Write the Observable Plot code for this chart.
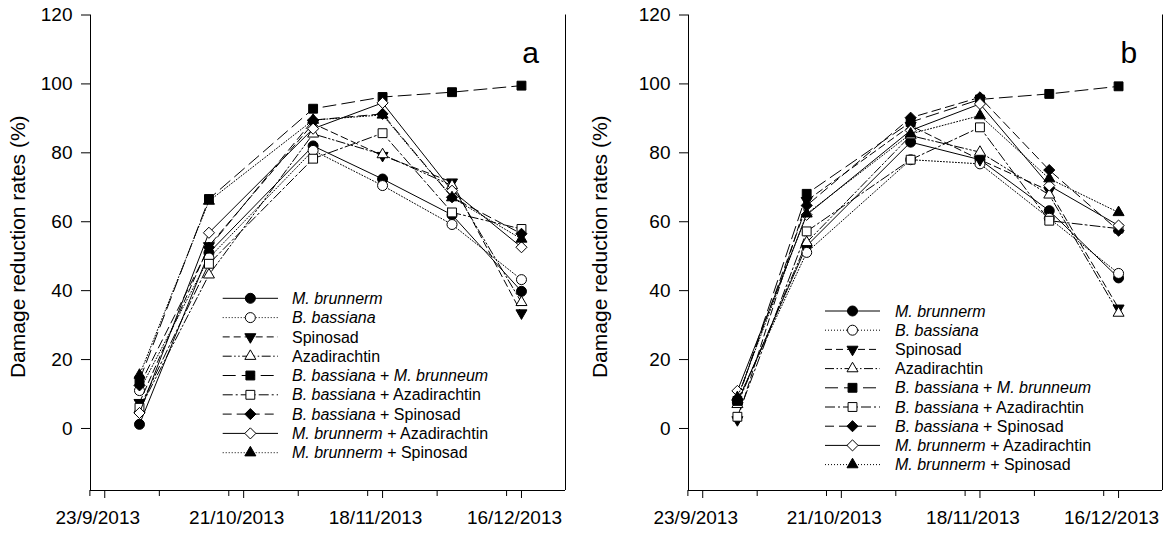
<!DOCTYPE html>
<html><head><meta charset="utf-8">
<script src="https://cdn.jsdelivr.net/npm/d3@7"></script>
<script src="https://cdn.jsdelivr.net/npm/@observablehq/plot@0.6"></script>
<style>
body{margin:0;background:#fff;}
#wrap{position:relative;width:1164px;height:534px;overflow:hidden;background:#fff;}
#wrap svg{position:absolute;top:0;}
</style></head><body><div id="wrap"></div>
<script>
// ---- data ----
const sampleDates = ["2013-09-30","2013-10-14","2013-11-04","2013-11-18","2013-12-02","2013-12-16"];
const seriesNames = ["M. brunnerm","B. bassiana","Spinosad","Azadirachtin","B. bassiana + M. brunneum","B. bassiana + Azadirachtin","B. bassiana + Spinosad","M. brunnerm + Azadirachtin","M. brunnerm + Spinosad"];
// legend label pieces: [text, italic]
const legendLabels = [
  [["M. brunnerm",true]],
  [["B. bassiana",true]],
  [["Spinosad",false]],
  [["Azadirachtin",false]],
  [["B. bassiana",true],[" + ",false],["M. brunneum",true]],
  [["B. bassiana",true],[" + Azadirachtin",false]],
  [["B. bassiana",true],[" + Spinosad",false]],
  [["M. brunnerm",true],[" + Azadirachtin",false]],
  [["M. brunnerm",true],[" + Spinosad",false]]
];
// panel a values
const a_MB      = [1.2, 51.0, 82.0, 72.4, 62.0, 39.8];
const a_BB      = [11.0, 49.5, 80.7, 70.5, 59.2, 43.2];
const a_Spin    = [7.5, 53.0, 88.5, 79.2, 71.5, 33.5];
const a_Aza     = [5.5, 44.6, 85.5, 79.5, 70.5, 36.6];
const a_BBMB    = [14.0, 66.6, 92.8, 96.2, 97.6, 99.5];
const a_BBAza   = [6.0, 47.8, 78.3, 85.7, 62.7, 57.9];
const a_BBSpin  = [12.5, 52.5, 89.5, 91.3, 67.1, 56.5];
const a_MBAza   = [4.5, 56.8, 87.0, 94.5, 69.0, 52.6];
const a_MBSpin  = [15.5, 66.0, 89.5, 91.0, 67.0, 55.0];
// panel b values
const b_MB      = [7.6, 53.0, 83.1, 78.0, 63.2, 43.7];
const b_BB      = [8.0, 51.1, 78.0, 76.8, 61.0, 45.0];
const b_Spin    = [2.5, 66.1, 87.9, 78.0, 69.0, 34.9];
const b_Aza     = [7.0, 54.0, 85.0, 80.2, 67.8, 33.5];
const b_BBMB    = [8.0, 68.1, 88.9, 95.5, 97.1, 99.3];
const b_BBAza   = [3.4, 57.2, 78.0, 87.4, 60.3, 58.0];
const b_BBSpin  = [8.5, 64.7, 90.2, 96.1, 75.0, 57.4];
const b_MBAza   = [10.9, 62.0, 86.5, 94.2, 70.5, 58.9];
const b_MBSpin  = [9.0, 62.3, 85.5, 90.8, 72.5, 62.7];

const yTicks = [0, 20, 40, 60, 80, 100, 120];
const majorTickDates = ["2013-09-23","2013-10-21","2013-11-18","2013-12-16"];
const minorTickDates = ["2013-09-20","2013-10-04","2013-10-18","2013-11-01","2013-11-15","2013-11-29","2013-12-13"];
const xDomainDates = ["2013-09-20T03:00Z","2013-12-24T21:00Z"];
const yDomain = [-18, 120];
const yLabel = "Damage reduction rates (%)";

// ---- styles ----
const triUp = {draw(ctx, size){const r=Math.sqrt(size/Math.PI), s=2.2*r, h=s*Math.sqrt(3)/2; ctx.moveTo(0,-2*h/3); ctx.lineTo(s/2,h/3); ctx.lineTo(-s/2,h/3); ctx.closePath();}};
const triDown = {draw(ctx, size){const r=Math.sqrt(size/Math.PI), s=2.2*r, h=s*Math.sqrt(3)/2; ctx.moveTo(0,2*h/3); ctx.lineTo(s/2,-h/3); ctx.lineTo(-s/2,-h/3); ctx.closePath();}};
const symbols = [d3.symbolCircle, d3.symbolCircle, triDown, triUp, d3.symbolSquare, d3.symbolSquare, d3.symbolDiamond2, d3.symbolDiamond2, triUp];
const fills = ["black","white","black","white","black","white","black","white","black"];
const dashes = [null, "1,2", "7,4", "9,2.5,1.5,2.5,1.5,2.5", "13,6", "10,3,2,3", "9,5", null, "1,2"];

const parse = s => new Date(s.length === 10 ? s + "T00:00Z" : s);
const dates = sampleDates.map(parse);
const fmt = d => `${d.getUTCDate()}/${d.getUTCMonth()+1}/${d.getUTCFullYear()}`;

function rowsFor(arrays) {
  return arrays.map((vals, si) => vals.map((v, i) => ({series: seriesNames[si], date: dates[i], value: v})));
}
const panelA = rowsFor([a_MB, a_BB, a_Spin, a_Aza, a_BBMB, a_BBAza, a_BBSpin, a_MBAza, a_MBSpin]);
const panelB = rowsFor([b_MB, b_BB, b_Spin, b_Aza, b_BBMB, b_BBAza, b_BBSpin, b_MBAza, b_MBSpin]);

function makePanel(letter, rowsBySeries, m, letterDx, legend) {
  const xDomain = xDomainDates.map(parse);
  const marks = [
    Plot.ruleY([yDomain[0]], {stroke: "black", strokeWidth: 1}),
    Plot.ruleX([xDomain[0], xDomain[1]], {stroke: "black", strokeWidth: 1}),
    Plot.axisY({ticks: yTicks, tickSize: 9, tickPadding: 9, fontSize: 19, label: null, stroke: "black"}),
    // major ticks (marks only)
    Plot.axisX({ticks: majorTickDates.map(parse), tickSize: 8, tickFormat: () => "", label: null}),
    // major tick labels, slightly left of ticks as in the reference
    Plot.axisX({ticks: majorTickDates.map(parse), tickSize: 0, tickPadding: 20, fontSize: 19, tickFormat: fmt, label: null, dx: -7}),
    // minor ticks
    Plot.axisX({ticks: minorTickDates.map(parse), tickSize: 6, tickFormat: () => "", label: null}),
    Plot.text([yLabel], {frameAnchor: "left", rotate: -90, dx: -(m.left - 18), dy: -6, fontSize: 21, textAnchor: "middle"}),
    Plot.text([letter], {frameAnchor: "top-right", dx: letterDx, dy: 38.6, fontSize: 30, lineAnchor: "middle", textAnchor: "middle"})
  ];
  rowsBySeries.forEach((rows, si) => {
    const lineOpts = {x: "date", y: "value", stroke: "black", strokeWidth: 1};
    if (dashes[si]) lineOpts.strokeDasharray = dashes[si];
    marks.push(Plot.line(rows, lineOpts));
    marks.push(Plot.dot(rows, {x: "date", y: "value", r: 5, symbol: symbols[si], fill: fills[si], stroke: "black", strokeWidth: 1}));
  });
  const svg = Plot.plot({
    width: 582, height: 534,
    marginLeft: m.left, marginRight: m.right, marginTop: 14.5, marginBottom: 44,
    x: {type: "utc", domain: xDomain},
    y: {domain: yDomain},
    style: {fontFamily: "'Liberation Sans', Arial, sans-serif", background: "white", color: "black"},
    marks
  });
  // legend
  const g = d3.select(svg).append("g")
    .attr("font-family", "'Liberation Sans', Arial, sans-serif")
    .attr("font-size", 16).attr("text-anchor", "start");
  seriesNames.forEach((name, si) => {
    const y = legend.y0 + si * legend.step;
    const row = g.append("g");
    const ln = row.append("line").attr("x1", legend.x1).attr("x2", legend.x2).attr("y1", y).attr("y2", y)
      .attr("stroke", "black").attr("stroke-width", 1);
    if (dashes[si]) ln.attr("stroke-dasharray", dashes[si]);
    row.append("path").attr("d", d3.symbol(symbols[si], 25 * Math.PI)())
      .attr("transform", `translate(${(legend.x1 + legend.x2) / 2},${y})`)
      .attr("fill", fills[si]).attr("stroke", "black").attr("stroke-width", 1);
    const t = row.append("text").attr("x", legend.tx).attr("y", y).attr("dy", "0.35em")
      .attr("fill", "black").attr("text-anchor", "start");
    legendLabels[si].forEach(([txt, it]) => {
      t.append("tspan").attr("font-style", it ? "italic" : "normal").style("white-space", "pre").text(txt);
    });
  });
  return svg;
}

const wrap = document.getElementById("wrap");
const svgA = makePanel("a", panelA, {left: 90, right: 17}, -35, {x1: 222.7, x2: 278, tx: 292, y0: 298.3, step: 19.3});
const svgB = makePanel("b", panelB, {left: 106, right: 2}, -33.7, {x1: 243, x2: 298, tx: 313, y0: 311, step: 19.2});
svgA.style.left = "0px";
svgB.style.left = "582px";
wrap.appendChild(svgA);
wrap.appendChild(svgB);
</script></body></html>
